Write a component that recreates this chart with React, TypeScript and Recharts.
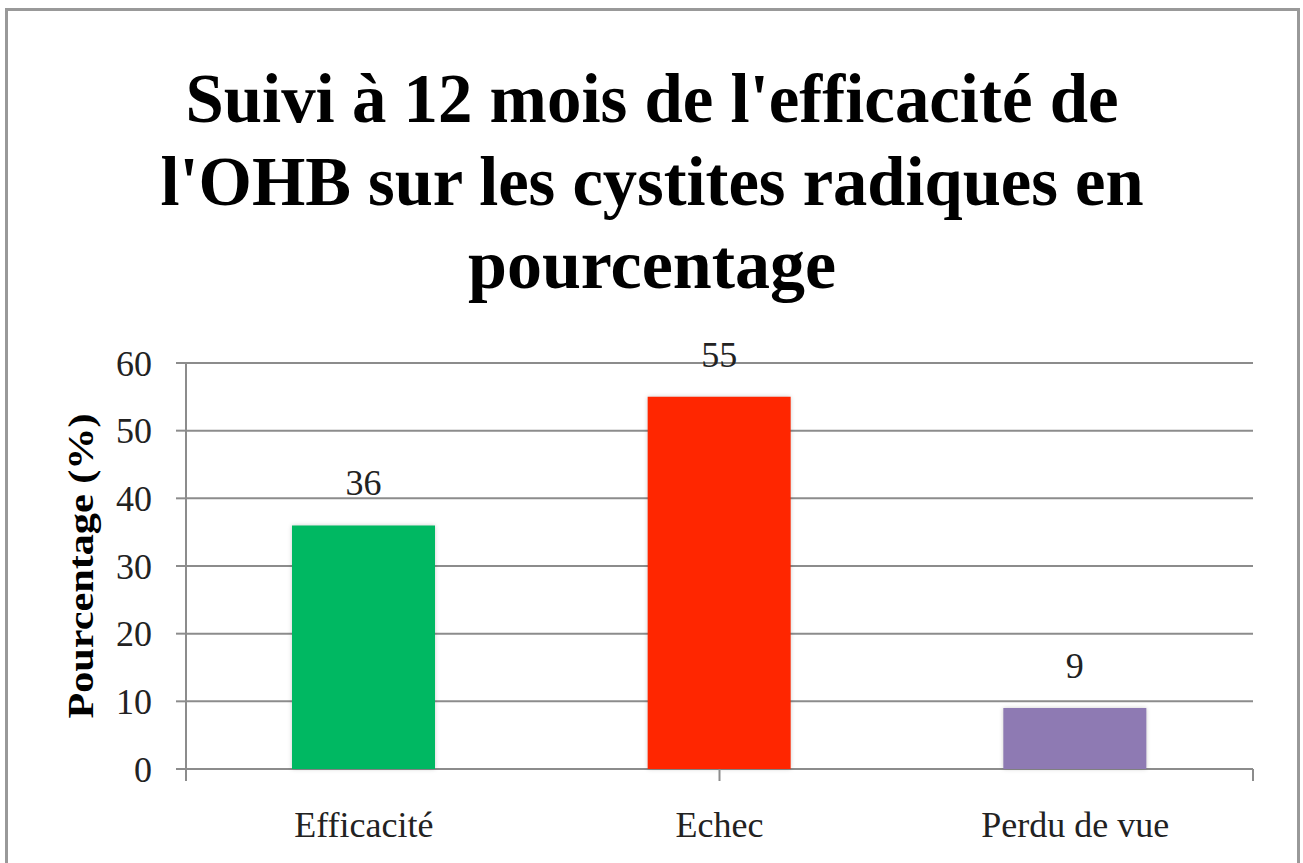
import { BarChart, Bar, XAxis, YAxis, CartesianGrid, Cell, LabelList, Label } from 'recharts'

const categories = ['Efficacité', 'Echec', 'Perdu de vue']
const values = [36, 55, 9]
const barColors = ['#00B862', '#FF2600', '#8E7AB3']
const yTicks = [0, 10, 20, 30, 40, 50, 60]
const boundaryTicks = [0, 1, 2, 3]
const titleLines = ["Suivi à 12 mois de l'efficacité de", "l'OHB sur les cystites radiques en", 'pourcentage']
const titleWidths = [933, 983, 368]

const FONT = '"Liberation Serif", "DejaVu Serif", serif'
const GRAY = '#8c8c8c'

const data = categories.map((name, i) => ({ name, value: values[i] }))

export default function App() {
  return (
    <div style={{ position: 'absolute', left: 0, top: 0, width: 1303, height: 863, overflow: 'hidden', background: '#fff' }}>
      <div style={{ position: 'absolute', left: 5, top: 8, width: 1289, height: 900, border: '3px solid #999' }} />
      <svg width={1303} height={320} style={{ position: 'absolute', left: 0, top: 0 }}>
        {titleLines.map((t, i) => (
          <text
            key={t}
            x={652}
            y={122 + i * 83}
            textAnchor="middle"
            fontFamily={FONT}
            fontWeight="bold"
            fontSize={70}
            fill="#000"
            textLength={titleWidths[i]}
            lengthAdjust="spacingAndGlyphs"
          >
            {t}
          </text>
        ))}
      </svg>
      <div style={{ position: 'absolute', left: 0, top: 0 }}>
        <BarChart width={1303} height={863} data={data} margin={{ top: 363, right: 50, left: 86, bottom: 34 }}>
          <CartesianGrid vertical={false} stroke={GRAY} strokeWidth={2} xAxisId="cat" />
          <XAxis
            xAxisId="bound"
            type="number"
            domain={[0, 3]}
            ticks={boundaryTicks}
            allowDataOverflow
            height={1}
            axisLine={false}
            tick={() => <g />}
            tickSize={12}
            tickLine={{ stroke: GRAY, strokeWidth: 2 }}
          />
          <XAxis
            xAxisId="cat"
            dataKey="name"
            height={59}
            axisLine={false}
            tickLine={false}
            tickSize={0}
            tickMargin={41}
            tick={{ fontSize: 36, fontFamily: FONT, fill: '#222' }}
          />
          <YAxis
            domain={[0, 60]}
            ticks={yTicks}
            width={100}
            axisLine={{ stroke: GRAY, strokeWidth: 2 }}
            tickLine={{ stroke: GRAY, strokeWidth: 2 }}
            tickSize={10}
            tickMargin={24}
            tick={{ fontSize: 36, fontFamily: FONT, fill: '#222' }}
          >
            <Label
              content={({ viewBox }: any) => {
                const cx = viewBox.x + 7
                const cy = viewBox.y + viewBox.height / 2
                return (
                  <text
                    x={cx}
                    y={cy}
                    transform={`rotate(-90 ${cx} ${cy})`}
                    textAnchor="middle"
                    fontFamily={FONT}
                    fontWeight="bold"
                    fontSize={36}
                    fill="#000"
                    textLength={305}
                    lengthAdjust="spacingAndGlyphs"
                  >
                    Pourcentage (%)
                  </text>
                )
              }}
            />
          </YAxis>
          <Bar dataKey="value" xAxisId="cat" barSize={143} isAnimationActive={false}>
            {data.map((d, i) => (
              <Cell key={d.name} fill={barColors[i]} style={{ filter: 'drop-shadow(0 0 2px rgba(0,0,0,0.2))' }} />
            ))}
            <LabelList dataKey="value" position="top" offset={30} fontSize={36} fontFamily={FONT} fill="#222" />
          </Bar>
        </BarChart>
      </div>
    </div>
  )
}
